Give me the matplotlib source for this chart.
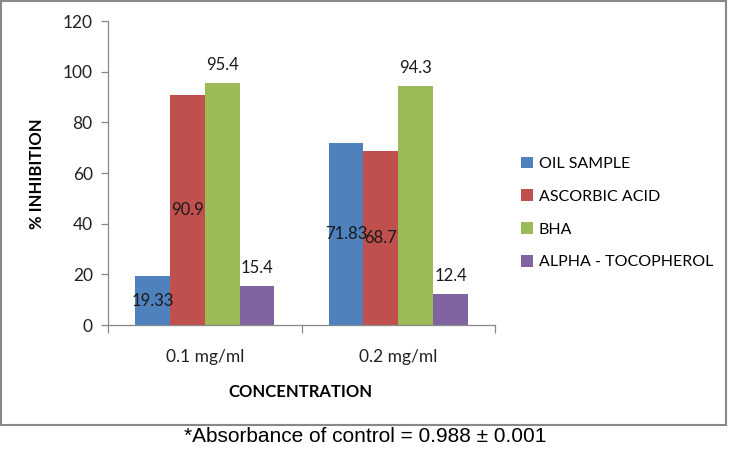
import matplotlib
matplotlib.use("Agg")
import matplotlib.pyplot as plt
from matplotlib.patches import Rectangle, Patch
import numpy as np

categories = ["0.1 mg/ml", "0.2 mg/ml"]
series_names = ["OIL SAMPLE", "ASCORBIC ACID", "BHA", "ALPHA - TOCOPHEROL"]
oil_sample = [19.33, 71.83]
ascorbic_acid = [90.9, 68.7]
bha = [95.4, 94.3]
alpha_tocopherol = [15.4, 12.4]
colors = ["#4F81BD", "#C0504D", "#9BBB59", "#8064A2"]

series = [oil_sample, ascorbic_acid, bha, alpha_tocopherol]
label_pos = ["center", "center", "above", "above"]

W, H = 729, 458
fig = plt.figure(figsize=(W / 100, H / 100), dpi=100)
font = ["Lato", "DejaVu Sans"]

ax = fig.add_axes([108 / W, 1 - 325 / H, (495 - 108) / W, (325 - 21) / H])

x = np.arange(len(categories))
bw = 0.18
for i, (vals, c) in enumerate(zip(series, colors)):
    xs = x + (i - 1.5) * bw
    ax.bar(xs, vals, width=bw, color=c, zorder=2)
    for xi, v in zip(xs, vals):
        if label_pos[i] == "center":
            ax.text(xi, v / 2, f"{v:g}", ha="center", va="center",
                    fontsize=12, family=font, color="#1a1a1a", zorder=3)
        else:
            ax.annotate(f"{v:g}", (xi, v), xytext=(0, 13), textcoords="offset points",
                        ha="center", va="center", fontsize=12, family=font,
                        color="#1a1a1a", zorder=3)

ax.set_xlim(-0.5, 1.5)
ax.set_ylim(0, 120)
ax.set_yticks(np.arange(0, 121, 20))
ax.set_yticklabels([str(v) for v in range(0, 121, 20)], family=font, fontsize=12.5, color="#222222")
ax.set_xticks(x)
ax.set_xticklabels(categories, family=font, fontsize=12.5, color="#222222")
ax.set_xticks([-0.5, 0.5, 1.5], minor=True)
ax.tick_params(axis="x", which="major", length=0, pad=17)
ax.tick_params(axis="x", which="minor", length=6, color="#888888", width=0.9)
ax.tick_params(axis="y", length=5, color="#888888", width=0.9, pad=6)
for s in ["top", "right"]:
    ax.spines[s].set_visible(False)
for s in ["left", "bottom"]:
    ax.spines[s].set_color("#888888")
    ax.spines[s].set_linewidth(0.9)

fig.text(300 / W, 1 - 392 / H, "CONCENTRATION", ha="center", va="center",
         fontsize=12, fontweight="bold", family=font)
fig.text(37 / W, 1 - 174 / H, "% INHIBITION", ha="center", va="center",
         rotation=90, fontsize=12, fontweight="bold", family=font)

handles = [Patch(facecolor=c, edgecolor="none") for c in colors]
fig.legend(handles, series_names, loc="center left",
           bbox_to_anchor=(521 / W, 1 - 213 / H), frameon=False,
           prop={"family": font, "size": 11.5}, handlelength=0.75, handleheight=0.75,
           handletextpad=0.35, labelspacing=1.15, borderpad=0, borderaxespad=0)

fig.patches.append(Rectangle((1 / W, 1 - 425 / H), (726 - 1) / W, (424) / H,
                             transform=fig.transFigure, fill=False,
                             edgecolor="#888888", linewidth=1.5))

fig.text(365 / W, 1 - 437 / H, "*Absorbance of control = 0.988 \u00b1 0.001",
         ha="center", va="center", fontsize=15,
         family=["Liberation Sans", "DejaVu Sans"])

fig.savefig("out.png", dpi=100)
